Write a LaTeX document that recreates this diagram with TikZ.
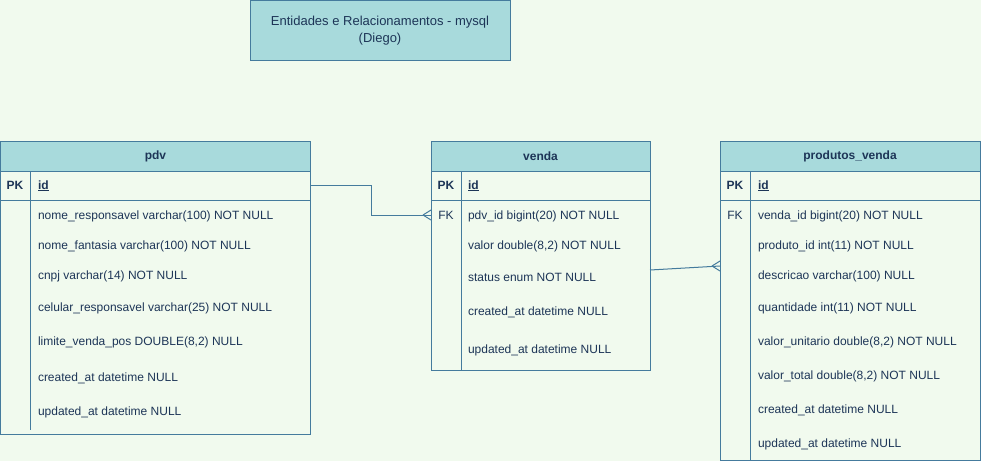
\documentclass[tikz,border=0pt]{standalone}
\usepackage{fontspec}
\setmainfont{Liberation Sans}
\usetikzlibrary{calc}
\definecolor{bgc}{HTML}{F1FAEE}
\definecolor{hdrc}{HTML}{A8DADC}
\definecolor{strk}{HTML}{457B9D}
\definecolor{txtc}{HTML}{1D3557}
\begin{document}
\begin{tikzpicture}[x=1pt,y=-1pt,
  every node/.style={inner sep=0pt,outer sep=0pt,text=txtc,font=\fontsize{12}{14}\selectfont},
  tbl/.style={draw=strk,line width=1pt,fill=bgc,anchor=north west},
  hdr/.style={draw=strk,line width=1pt,fill=hdrc,anchor=north west,font=\fontsize{12}{14}\selectfont\bfseries},
  fld/.style={anchor=mid west,yshift=-1.5pt},
  key/.style={anchor=mid,yshift=-1.5pt},
  sep/.style={draw=strk,line width=1pt},
  conn/.style={draw=strk,line width=1pt}
]
\useasboundingbox[fill=bgc] (0,0) rectangle (981,461);
% title
\node[hdr,font=\fontsize{13}{17.5}\selectfont,align=center,minimum width=260pt,minimum height=60pt] (title) at (250,0.5) {Entidades e Relacionamentos - mysql\\(Diego)};

% ---------- pdv ----------
\node[tbl,minimum width=310pt,minimum height=293pt] (pdv) at (0.5,141) {};
\node[hdr,minimum width=310pt,minimum height=30pt] (pdvh) at (0.5,141) {pdv};
\draw[sep] (pdv.west |- 0,200) -- (pdv.east |- 0,200);
\draw[sep] (30,171) -- (30,430);
\node[key,font=\fontsize{12}{14}\selectfont\bfseries] (pdvpk) at (15,185) {PK};
\node[fld,font=\fontsize{12}{14}\selectfont\bfseries] (pdvid) at (38,185) {\underline{id}};
\node[fld] (pdv1) at (38,215) {nome\_responsavel varchar(100) NOT NULL};
\node[fld] (pdv2) at (38,245) {nome\_fantasia varchar(100) NOT NULL};
\node[fld] (pdv3) at (38,275) {cnpj varchar(14) NOT NULL};
\node[fld] (pdv4) at (38,307) {celular\_responsavel varchar(25) NOT NULL};
\node[fld] (pdv5) at (38,341) {limite\_venda\_pos DOUBLE(8,2) NULL};
\node[fld] (pdv6) at (38,377) {created\_at datetime NULL};
\node[fld] (pdv7) at (38,411) {updated\_at datetime NULL};

% ---------- venda ----------
\node[tbl,minimum width=219pt,minimum height=229pt] (venda) at (431,141) {};
\node[hdr,minimum width=219pt,minimum height=30pt] (vendah) at (431,141) {venda};
\draw[sep] (venda.west |- 0,200) -- (venda.east |- 0,200);
\draw[sep] (461,171) -- (461,370);
\node[key,font=\fontsize{12}{14}\selectfont\bfseries] (vpk) at (446,185) {PK};
\node[fld,font=\fontsize{12}{14}\selectfont\bfseries] (vid) at (468,185) {\underline{id}};
\node[key] (vfk) at (446,215) {FK};
\node[fld] (v1) at (468,215) {pdv\_id bigint(20) NOT NULL};
\node[fld] (v2) at (468,245) {valor double(8,2) NOT NULL};
\node[fld] (v3) at (468,277) {status enum NOT NULL};
\node[fld] (v4) at (468,311) {created\_at datetime NULL};
\node[fld] (v5) at (468,349) {updated\_at datetime NULL};

% ---------- produtos_venda ----------
\node[tbl,minimum width=260pt,minimum height=319pt] (pv) at (720,141) {};
\node[hdr,minimum width=260pt,minimum height=30pt] (pvh) at (720,141) {produtos\_venda};
\draw[sep] (pv.west |- 0,200) -- (pv.east |- 0,200);
\draw[sep] (750,171) -- (750,460);
\node[key,font=\fontsize{12}{14}\selectfont\bfseries] (pvpk) at (735,185) {PK};
\node[fld,font=\fontsize{12}{14}\selectfont\bfseries] (pvid) at (758,185) {\underline{id}};
\node[key] (pvfk) at (735,215) {FK};
\node[fld] (p1) at (758,215) {venda\_id bigint(20) NOT NULL};
\node[fld] (p2) at (758,245) {produto\_id int(11) NOT NULL};
\node[fld] (p3) at (758,275) {descricao varchar(100) NULL};
\node[fld] (p4) at (758,307) {quantidade int(11) NOT NULL};
\node[fld] (p5) at (758,341) {valor\_unitario double(8,2) NOT NULL};
\node[fld] (p6) at (758,375) {valor\_total double(8,2) NOT NULL};
\node[fld] (p7) at (758,409) {created\_at datetime NULL};
\node[fld] (p8) at (758,443) {updated\_at datetime NULL};

% ---------- connectors ----------
\coordinate (bend1) at (371,0);
\coordinate (e1) at (venda.west |- 0,215);
\draw[conn] (pdv.east |- 0,185) -| (bend1 |- e1) -- (e1);
\draw[conn] ($(e1)+(-8,0)$) -- ($(e1)+(0,-5)$);
\draw[conn] ($(e1)+(-8,0)$) -- ($(e1)+(0,5)$);

\coordinate (s2) at ($(venda.north east)+(0,129)$);
\coordinate (e2) at ($(pv.north west)+(0,125)$);
\draw[conn] (s2) -- (e2);
\draw[conn] ($(e2)+(-8,0)$) -- ($(e2)+(0,-5)$);
\draw[conn] ($(e2)+(-8,0)$) -- ($(e2)+(0,5)$);
\end{tikzpicture}
\end{document}
